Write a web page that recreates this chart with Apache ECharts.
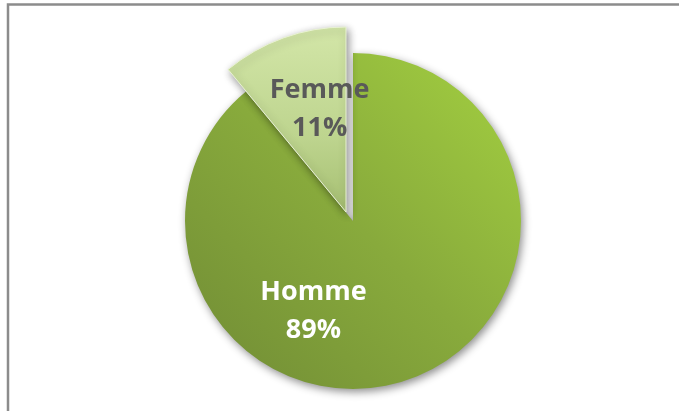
<!DOCTYPE html>
<html>
<head>
<meta charset="utf-8">
<script src="https://cdn.jsdelivr.net/npm/echarts@6/dist/echarts.min.js"></script>
<style>html,body{margin:0;padding:0;background:#fff}#c{width:679px;height:411px}</style>
</head>
<body>
<div id="c"></div>
<script>
var categories = ['Homme', 'Femme'];
var values = [89, 11];

var chart = echarts.init(document.getElementById('c'), null, {renderer: 'canvas'});

var hommeColor = new echarts.graphic.LinearGradient(1, 0, 0, 1, [
  {offset: 0, color: '#a4d140'},
  {offset: 0.5, color: '#88aa3c'},
  {offset: 1, color: '#708b35'}
]);
var femmeColor = new echarts.graphic.LinearGradient(0, 0, 0, 1, [
  {offset: 0, color: '#d3e6a8'},
  {offset: 0.6, color: '#bdd48e'},
  {offset: 1, color: '#a6bf72'}
]);
var hidden = {color: 'rgba(0,0,0,0)', shadowBlur: 0, shadowColor: 'rgba(0,0,0,0)'};
var shadow = {shadowBlur: 8, shadowColor: 'rgba(0,0,0,0.45)', shadowOffsetX: 2, shadowOffsetY: 3};

var labelFont = {fontFamily: 'Open Sans', fontWeight: 'bold', fontSize: 27, lineHeight: 38};

chart.setOption({
  animation: false,
  graphic: [{
    type: 'rect', shape: {x: 8, y: 4.5, width: 720, height: 440},
    style: {fill: 'none', stroke: '#8c8c8c', lineWidth: 2.5}, silent: true
  }],
  series: [
    {
      type: 'pie', center: [353, 221], radius: [0, 168], startAngle: 90, clockwise: true,
      avoidLabelOverlap: false, labelLine: {show: false},
      data: [
        {name: categories[0], value: values[0],
          itemStyle: Object.assign({color: hommeColor}, shadow),
          label: Object.assign({show: true, position: 'inside', color: '#ffffff', offset: [-69, 8],
            formatter: '{b}\n{c}%'}, labelFont)},
        {name: categories[1], value: values[1], itemStyle: hidden, label: {show: false}}
      ]
    },
    {
      type: 'pie', center: [346, 212], radius: [0, 185], startAngle: 90, clockwise: true,
      avoidLabelOverlap: false, labelLine: {show: false},
      data: [
        {name: categories[0], value: values[0], itemStyle: hidden, label: {show: false}},
        {name: categories[1], value: values[1],
          itemStyle: Object.assign({color: femmeColor, borderColor: '#e8f2d2', borderWidth: 1}, shadow),
          label: Object.assign({show: true, position: 'inside', color: '#595959', offset: [6, -13],
            formatter: '{b}\n{c}%'}, labelFont)}
      ]
    }
  ]
});
</script>
</body>
</html>
